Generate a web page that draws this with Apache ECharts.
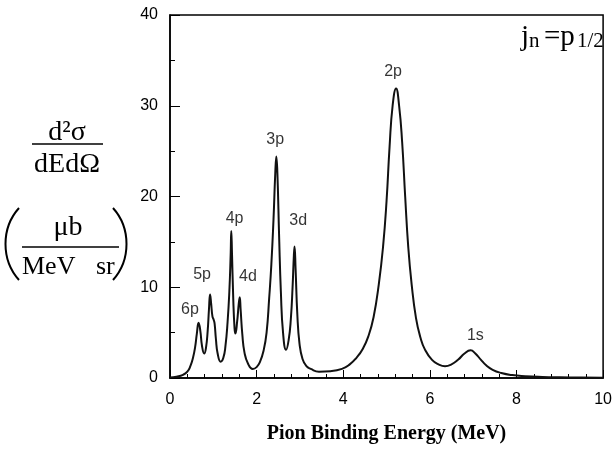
<!DOCTYPE html>
<html>
<head>
<meta charset="utf-8">
<script src="https://cdn.jsdelivr.net/npm/echarts@6/dist/echarts.min.js"></script>
<style>
  html, body { margin: 0; padding: 0; background: #fff; }
  #chart { width: 615px; height: 449px; }
</style>
</head>
<body>
<div id="chart"></div>
<script>
// pion binding energy (MeV) and cross section (µb / MeV sr)
const energy = [
  0.00, 0.15, 0.30, 0.40, 0.47, 0.53, 0.58, 0.62, 0.66, 0.70,
  0.74, 0.79, 0.83, 0.87, 0.90, 0.925, 0.95, 0.98, 1.01, 1.03,
  1.06, 1.10, 1.17, 1.23, 1.28, 1.33, 1.37, 1.40, 1.415, 1.43,
  1.46, 1.49, 1.51, 1.55, 1.59, 1.61, 1.63, 1.67, 1.72, 1.80,
  1.91, 2.00, 2.08, 2.16, 2.23, 2.29, 2.34, 2.39, 2.43, 2.455,
  2.48, 2.52, 2.56, 2.61, 2.68, 2.74, 2.79, 2.83, 2.86, 2.875,
  2.90, 2.94, 2.99, 3.06, 3.15, 3.25, 3.44, 3.70, 3.97, 4.15,
  4.30, 4.45, 4.58, 4.70, 4.82, 4.92, 5.00, 5.07, 5.14, 5.22,
  5.29, 5.36, 5.43, 5.50, 5.58, 5.68, 5.78, 5.89, 6.05, 6.20,
  6.35, 6.50, 6.65, 6.80, 6.94, 7.05, 7.18, 7.30, 7.45, 7.65,
  7.90, 8.20, 8.60, 9.00, 9.50, 10.0
]
const crossSection = [
  0.05, 0.15, 0.35, 0.7, 1.3, 2.2, 3.4, 4.9, 6.1, 5.2,
  3.5, 2.7, 3.3, 5.2, 7.6, 9.2, 8.2, 6.8, 6.4, 6.0,
  4.3, 2.7, 1.8, 2.2, 3.5, 6.2, 9.5, 13.5, 16.2, 14.0,
  8.8, 5.5, 4.9, 6.2, 8.3, 8.9, 7.6, 4.8, 2.8, 1.6,
  1.0, 1.2, 1.8, 3.0, 5.0, 8.8, 12.5, 17.5, 22.5, 24.4,
  22.5, 15.5, 9.5, 5.0, 3.1, 4.2, 6.5, 10, 13.5, 14.5,
  12, 7, 3.8, 2.1, 1.3, 1.0, 0.7, 0.75, 1.0, 1.5,
  2.2, 3.2, 4.6, 6.7, 10.3, 14.5, 19.5, 25.5, 30.0, 31.9,
  30.0, 26.0, 20.0, 14.5, 10.3, 6.6, 4.5, 3.1, 2.0, 1.5,
  1.3, 1.5, 2.0, 2.7, 3.05, 2.7, 2.0, 1.4, 0.9, 0.55,
  0.32, 0.2, 0.12, 0.08, 0.05, 0.03
]
// peak labels: name and where the text sits (data coords)
const peakNames = ['6p', '5p', '4p', '4d', '3p', '3d', '2p', '1s']
const peakLabelX = [0.46, 0.74, 1.49, 1.80, 2.43, 2.96, 5.15, 7.05]
const peakLabelY = [7.5, 11.4, 17.6, 11.2, 26.3, 17.4, 33.8, 4.7]

const chart = echarts.init(document.getElementById('chart'))

const serif = 'Liberation Serif'
const sans = 'Liberation Sans'

chart.setOption({
  animation: false,
  grid: {
    left: 170, right: 9, top: 15, bottom: 60,
    show: true, borderColor: '#000', borderWidth: 1.5
  },
  xAxis: {
    type: 'value',
    min: 0, max: 10, interval: 2,
    name: 'Pion Binding Energy (MeV)',
    nameLocation: 'middle',
    nameGap: 46,
    nameTextStyle: { fontFamily: serif, fontWeight: 'bold', fontSize: 20, color: '#000' },
    axisLine: { lineStyle: { color: '#000', width: 1.5 } },
    axisTick: { inside: true, length: 8, lineStyle: { color: '#000' } },
    minorTick: { show: true, splitNumber: 5, length: 4, lineStyle: { color: '#000' } },
    axisLabel: { fontFamily: sans, fontSize: 16, color: '#000', margin: 14 },
    splitLine: { show: false }
  },
  yAxis: {
    type: 'value',
    min: 0, max: 40, interval: 10,
    axisLine: { show: true, lineStyle: { color: '#000', width: 1.5 } },
    axisTick: { show: true, inside: true, length: 10, lineStyle: { color: '#000' } },
    minorTick: { show: true, splitNumber: 2, length: 5, lineStyle: { color: '#000' } },
    axisLabel: { fontFamily: sans, fontSize: 16, color: '#000', margin: 12 },
    splitLine: { show: false }
  },
  series: [
    {
      type: 'line',
      data: energy.map((e, i) => [e, crossSection[i]]),
      smooth: 0.5,
      showSymbol: false,
      lineStyle: { color: '#111', width: 2 }
    },
    {
      type: 'scatter',
      symbolSize: 0,
      silent: true,
      data: peakNames.map((n, i) => ({ name: n, value: [peakLabelX[i], peakLabelY[i]] })),
      label: {
        show: true,
        position: 'inside',
        formatter: '{b}',
        fontFamily: sans,
        fontSize: 16,
        color: '#000'
      }
    }
  ],
  graphic: [
    // j_n = p_1/2
    { type: 'text', left: 521, top: 23, style: { text: 'j', font: '29px ' + serif, fill: '#000' } },
    { type: 'text', left: 529, top: 31, style: { text: 'n', font: '21px ' + serif, fill: '#000' } },
    { type: 'text', left: 544, top: 23, style: { text: '=p', font: '29px ' + serif, fill: '#000' } },
    { type: 'text', left: 577, top: 31, style: { text: '1/2', font: '21px ' + serif, fill: '#000' } },
    // y axis label
    { type: 'text', x: 67, y: 133, style: { text: 'd²σ', font: '28px ' + serif, fill: '#000', align: 'center', verticalAlign: 'middle' } },
    { type: 'line', shape: { x1: 32, y1: 144, x2: 103, y2: 144 }, style: { stroke: '#000', lineWidth: 1.5 } },
    { type: 'text', x: 67, y: 165, style: { text: 'dEdΩ', font: '28px ' + serif, fill: '#000', align: 'center', verticalAlign: 'middle' } },
    { type: 'text', x: 68, y: 228, style: { text: 'μb', font: '28px ' + serif, fill: '#000', align: 'center', verticalAlign: 'middle' } },
    { type: 'line', shape: { x1: 22, y1: 247, x2: 119, y2: 247 }, style: { stroke: '#000', lineWidth: 1.5 } },
    { type: 'text', x: 22, y: 267, style: { text: 'MeV', font: '26px ' + serif, fill: '#000', align: 'left', verticalAlign: 'middle' } },
    { type: 'text', x: 96, y: 267, style: { text: 'sr', font: '26px ' + serif, fill: '#000', align: 'left', verticalAlign: 'middle' } },
    { type: 'bezierCurve', shape: { x1: 19, y1: 208, cpx1: 1, cpy1: 228, cpx2: 1, cpy2: 260, x2: 19, y2: 280 }, style: { stroke: '#000', lineWidth: 2, fill: null } },
    { type: 'bezierCurve', shape: { x1: 113, y1: 208, cpx1: 131, cpy1: 228, cpx2: 131, cpy2: 260, x2: 113, y2: 280 }, style: { stroke: '#000', lineWidth: 2, fill: null } }
  ]
})
</script>
</body>
</html>
